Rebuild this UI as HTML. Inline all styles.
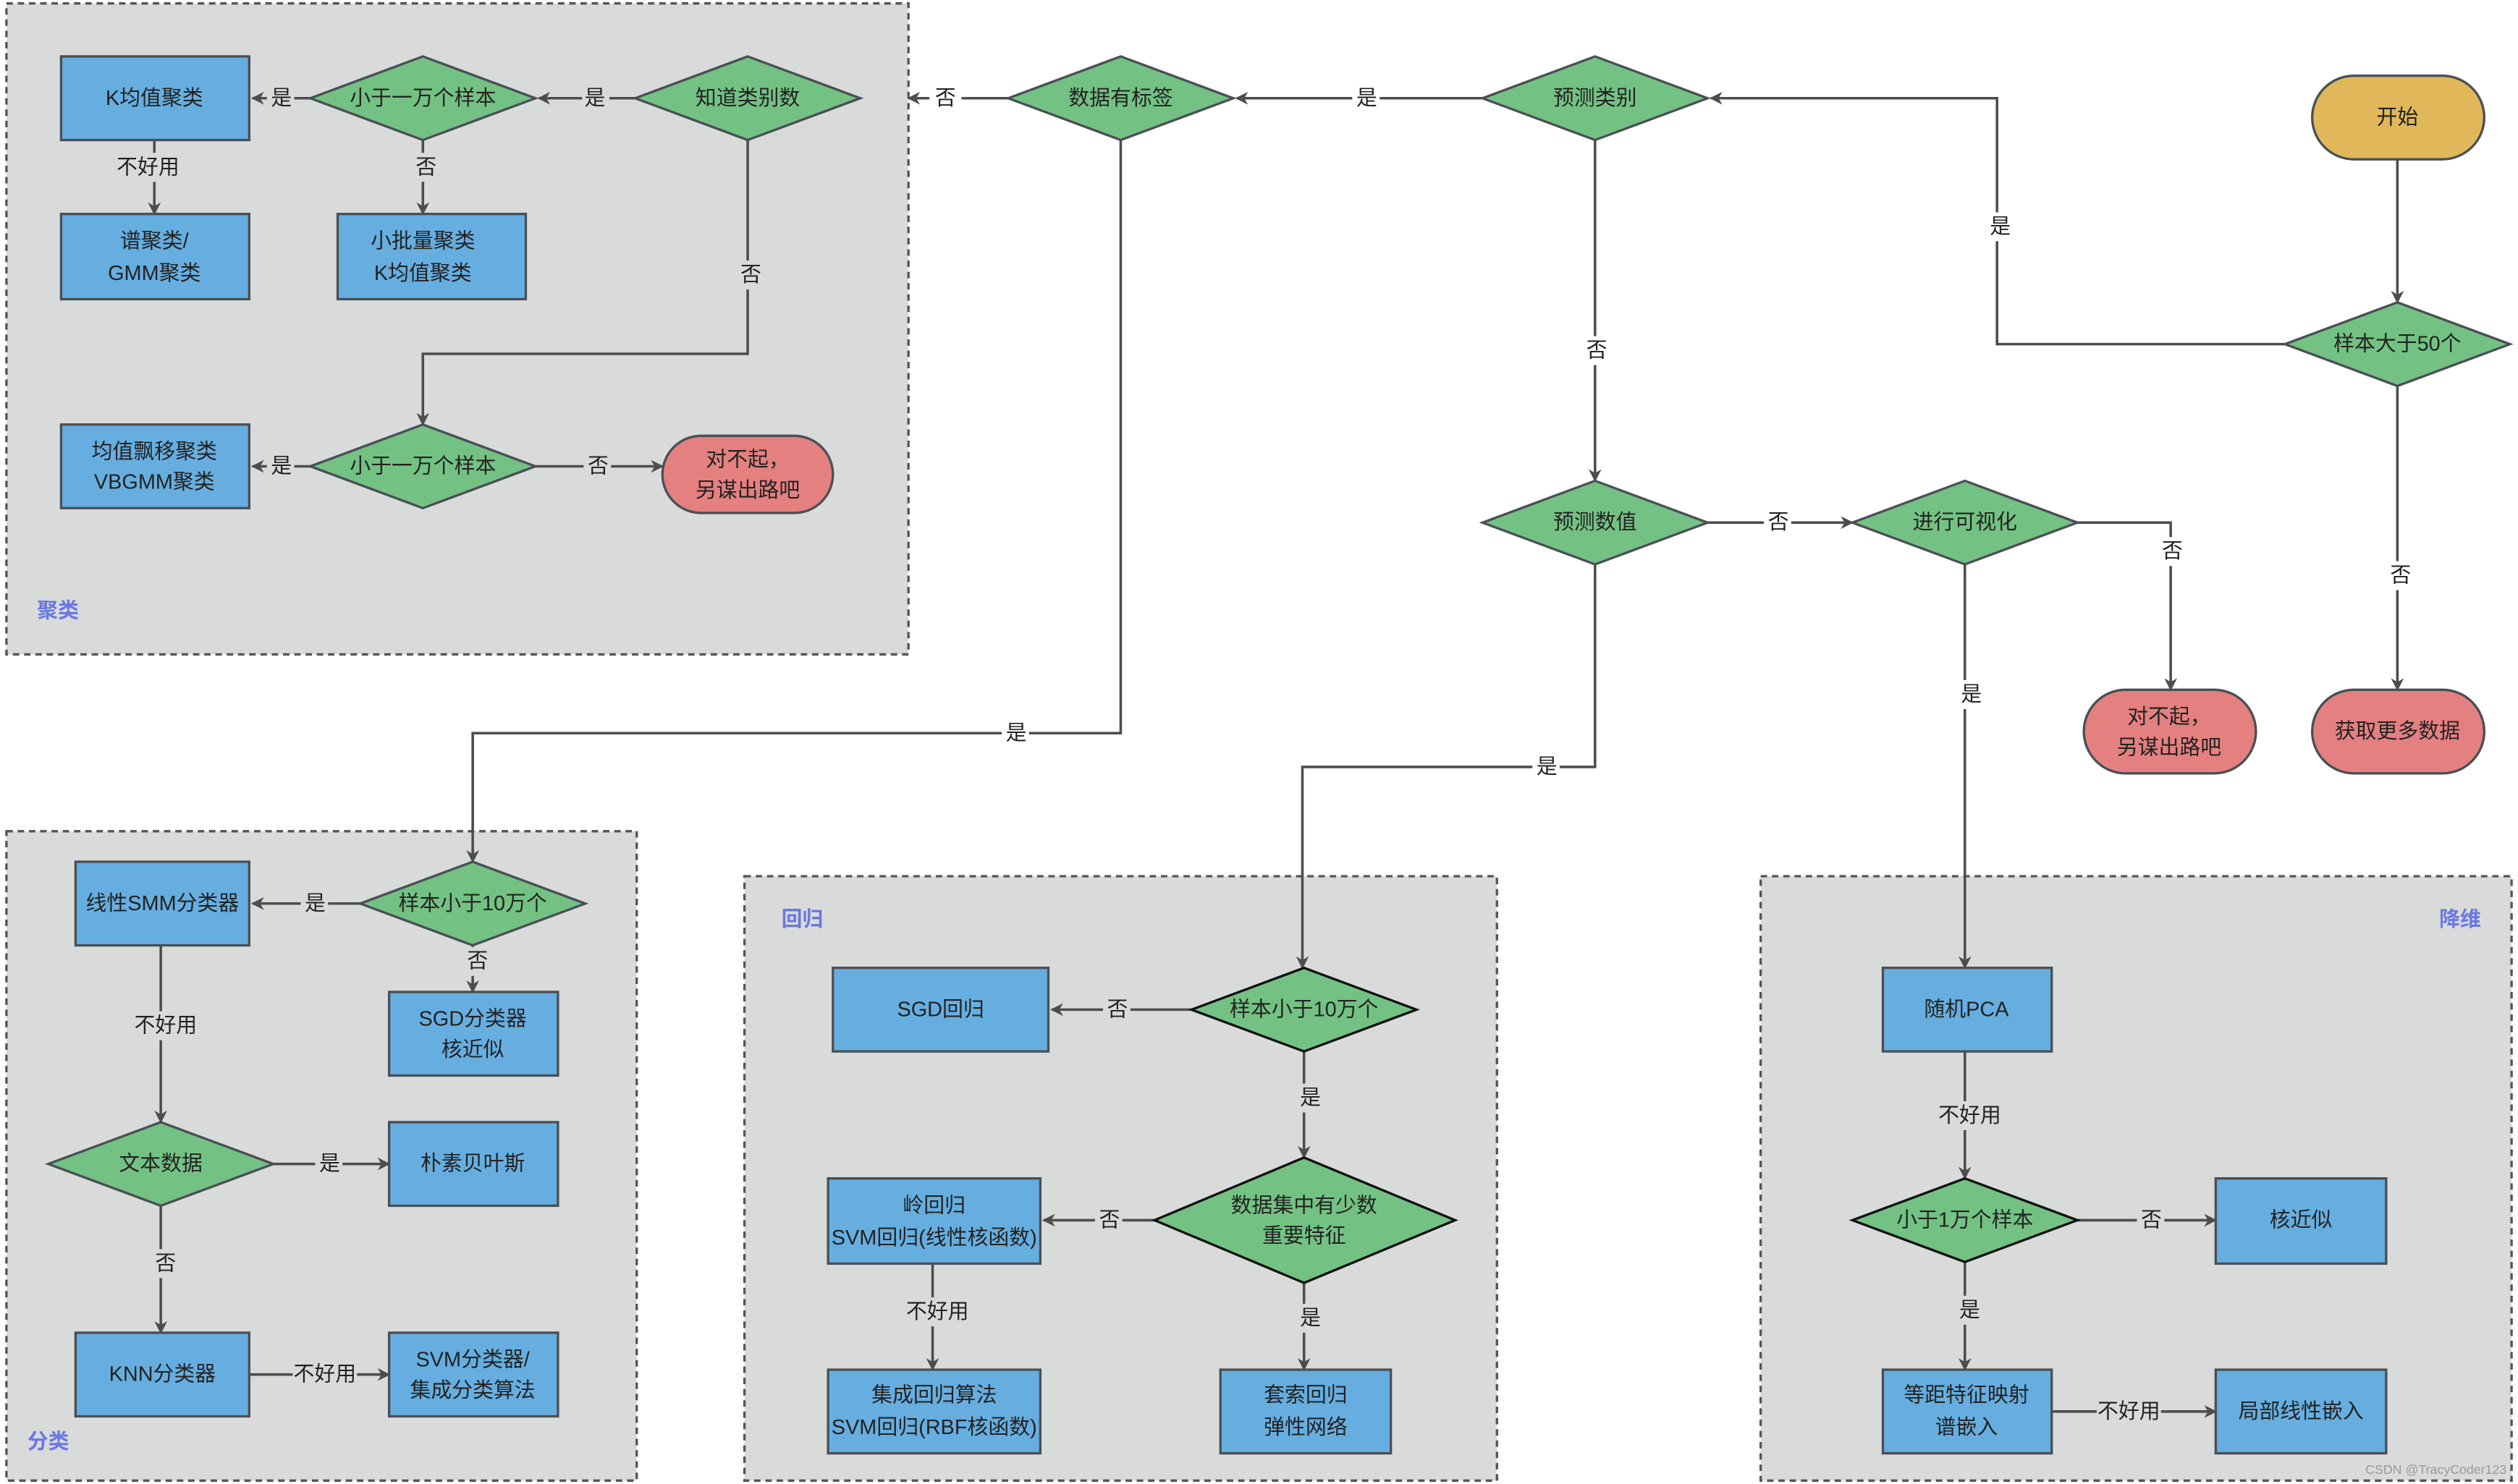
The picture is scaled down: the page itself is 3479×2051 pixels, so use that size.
<!DOCTYPE html>
<html><head><meta charset="utf-8"><style>html,body{margin:0;padding:0;background:#fff}svg{display:block}text{font-family:"Liberation Sans","Noto Sans CJK SC",sans-serif;font-size:13px;fill:#222;text-anchor:middle;dominant-baseline:central}</style></head>
<body>
<svg width="3479" height="2051" viewBox="0 0 1566 923" xmlns="http://www.w3.org/2000/svg">
<defs><marker id="a" viewBox="0 0 10 10" refX="9" refY="5" markerWidth="5" markerHeight="5" orient="auto"><path d="M0,0L10,5L0,10L3,5z" fill="#4d4d4d"/></marker></defs>
<g stroke="#555" stroke-width="1.5" stroke-dasharray="4,3" fill="#d9dbdb">
<rect x="4" y="2" width="561" height="405"/>
<rect x="4" y="517" width="392" height="404"/>
<rect x="463" y="545" width="468" height="376"/>
<rect x="1095" y="545" width="467" height="376"/>
</g>
<g font-weight="bold"><text x="36" y="380" style="fill:#6b79e0;font-weight:bold">聚类</text><text x="30" y="897" style="fill:#6b79e0;font-weight:bold">分类</text><text x="499" y="572" style="fill:#6b79e0;font-weight:bold">回归</text><text x="1530" y="572" style="fill:#6b79e0;font-weight:bold">降维</text></g>
<g stroke="#4d4d4d" stroke-width="1.6" fill="none" marker-end="url(#a)">
<path d="M1491,99V188"/>
<path d="M1421,214H1242V61H1064"/>
<path d="M1491,240V429"/>
<path d="M922,61H769"/>
<path d="M992,87V299"/>
<path d="M627,61H565"/>
<path d="M395,61H335"/>
<path d="M193,61H157"/>
<path d="M96,87V133"/>
<path d="M263,87V133"/>
<path d="M465,87V220H263V264"/>
<path d="M193,290H157"/>
<path d="M333,290H412"/>
<path d="M697,87V456H294V536"/>
<path d="M224,562H157"/>
<path d="M294,588V617"/>
<path d="M100,588V698"/>
<path d="M170,724H242"/>
<path d="M100,750V829"/>
<path d="M155,855H242"/>
<path d="M992,351V477H810V602"/>
<path d="M741,628H654"/>
<path d="M811,654V720"/>
<path d="M718,759H649"/>
<path d="M580,786V852"/>
<path d="M811,798V852"/>
<path d="M1062,325H1152"/>
<path d="M1292,325H1350V429"/>
<path d="M1222,351V602"/>
<path d="M1222,654V733"/>
<path d="M1292,759H1378"/>
<path d="M1222,785V852"/>
<path d="M1276,878H1378"/>
</g>
<g stroke="#4a4f55" stroke-width="1.5">
<g fill="#66aee0">
<rect x="38" y="35" width="117" height="52"/><rect x="38" y="133" width="117" height="53"/><rect x="210" y="133" width="117" height="53"/><rect x="38" y="264" width="117" height="52"/>
<rect x="47" y="536" width="108" height="52"/><rect x="242" y="617" width="105" height="52"/><rect x="242" y="698" width="105" height="52"/><rect x="47" y="829" width="108" height="52"/><rect x="242" y="829" width="105" height="52"/>
<rect x="518" y="602" width="134" height="52"/><rect x="515" y="733" width="132" height="53"/><rect x="515" y="852" width="132" height="52"/><rect x="759" y="852" width="106" height="52"/>
<rect x="1171" y="602" width="105" height="52"/><rect x="1378" y="733" width="106" height="53"/><rect x="1171" y="852" width="105" height="52"/><rect x="1378" y="852" width="106" height="52"/>
</g>
<g fill="#73c283">
<path d="M193,61L263,35L333,61L263,87z"/><path d="M395,61L465,35L535,61L465,87z"/><path d="M193,290L263,264L333,290L263,316z"/>
<path d="M627,61L697,35L767,61L697,87z"/><path d="M922,61L992,35L1062,61L992,87z"/><path d="M1421,214L1491,188L1561,214L1491,240z"/>
<path d="M922,325L992,299L1062,325L992,351z"/><path d="M1152,325L1222,299L1292,325L1222,351z"/>
<path d="M224,562L294,536L364,562L294,588z"/><path d="M30,724L100,698L170,724L100,750z"/>
<path d="M741,628L811,602L881,628L811,654z" stroke="#111"/><path d="M718,759L811,720L905,759L811,798z" stroke="#111"/>
<path d="M1152,759L1222,733L1292,759L1222,785z" stroke="#111"/>
</g>
<rect x="412" y="271" width="106" height="48" rx="24" fill="#e58080"/>
<rect x="1296" y="429" width="107" height="52" rx="26" fill="#e58080"/>
<rect x="1438" y="429" width="107" height="52" rx="26" fill="#e58080"/>
<rect x="1438" y="47" width="107" height="52" rx="26" fill="#e0b85a"/>
</g>
<g>
<text x="96" y="61">K均值聚类</text><text x="96" y="150">谱聚类/</text><text x="96" y="170">GMM聚类</text>
<text x="263" y="150">小批量聚类</text><text x="263" y="170">K均值聚类</text>
<text x="96" y="281">均值飘移聚类</text><text x="96" y="300">VBGMM聚类</text>
<text x="263" y="61">小于一万个样本</text><text x="465" y="61">知道类别数</text><text x="263" y="290">小于一万个样本</text>
<text x="465" y="286">对不起，</text><text x="465" y="305">另谋出路吧</text>
<text x="697" y="61">数据有标签</text><text x="992" y="61">预测类别</text><text x="1491" y="73">开始</text><text x="1491" y="214">样本大于50个</text>
<text x="1491" y="455">获取更多数据</text><text x="1349" y="446">对不起，</text><text x="1349" y="465">另谋出路吧</text>
<text x="992" y="325">预测数值</text><text x="1222" y="325">进行可视化</text>
<text x="101" y="562">线性SMM分类器</text><text x="294" y="562">样本小于10万个</text><text x="294" y="634">SGD分类器</text><text x="294" y="653">核近似</text>
<text x="100" y="724">文本数据</text><text x="294" y="724">朴素贝叶斯</text><text x="101" y="855">KNN分类器</text><text x="294" y="846">SVM分类器/</text><text x="294" y="865">集成分类算法</text>
<text x="585" y="628">SGD回归</text><text x="811" y="628">样本小于10万个</text><text x="811" y="750">数据集中有少数</text><text x="811" y="769">重要特征</text>
<text x="581" y="750">岭回归</text><text x="581" y="770">SVM回归(线性核函数)</text><text x="581" y="868">集成回归算法</text><text x="581" y="888">SVM回归(RBF核函数)</text>
<text x="812" y="868">套索回归</text><text x="812" y="888">弹性网络</text>
<text x="1223" y="628">随机PCA</text><text x="1222" y="759">小于1万个样本</text><text x="1431" y="759">核近似</text><text x="1223" y="868">等距特征映射</text><text x="1223" y="888">谱嵌入</text><text x="1431" y="878">局部线性嵌入</text>
</g>
<g>
<rect x="1236" y="132" width="17" height="18" fill="#fff"/><text x="1244" y="141">是</text>
<rect x="1485" y="349" width="17" height="18" fill="#fff"/><text x="1493" y="358">否</text>
<rect x="841" y="52" width="17" height="18" fill="#fff"/><text x="850" y="61">是</text>
<rect x="985" y="209" width="17" height="18" fill="#fff"/><text x="993" y="218">否</text>
<rect x="578" y="52" width="20" height="18" fill="#fff"/><text x="588" y="61">否</text>
<rect x="362" y="52" width="17" height="18" fill="#d9dbdb"/><text x="370" y="61">是</text>
<rect x="166" y="52" width="17" height="18" fill="#d9dbdb"/><text x="175" y="61">是</text>
<rect x="72" y="95" width="40" height="18" fill="#d9dbdb"/><text x="92" y="104">不好用</text>
<rect x="257" y="95" width="17" height="18" fill="#d9dbdb"/><text x="265" y="104">否</text>
<rect x="459" y="162" width="17" height="18" fill="#d9dbdb"/><text x="467" y="171">否</text>
<rect x="166" y="281" width="17" height="18" fill="#d9dbdb"/><text x="175" y="290">是</text>
<rect x="363" y="281" width="17" height="18" fill="#d9dbdb"/><text x="372" y="290">否</text>
<rect x="623" y="447" width="17" height="18" fill="#fff"/><text x="632" y="456">是</text>
<rect x="187" y="553" width="17" height="18" fill="#d9dbdb"/><text x="196" y="562">是</text>
<rect x="289" y="589" width="17" height="18" fill="#d9dbdb"/><text x="297" y="598">否</text>
<rect x="83" y="629" width="40" height="18" fill="#d9dbdb"/><text x="103" y="638">不好用</text>
<rect x="196" y="715" width="17" height="18" fill="#d9dbdb"/><text x="205" y="724">是</text>
<rect x="95" y="777" width="17" height="18" fill="#d9dbdb"/><text x="103" y="786">否</text>
<rect x="182" y="846" width="40" height="18" fill="#d9dbdb"/><text x="202" y="855">不好用</text>
<rect x="953" y="468" width="17" height="18" fill="#fff"/><text x="962" y="477">是</text>
<rect x="686" y="619" width="17" height="18" fill="#d9dbdb"/><text x="695" y="628">否</text>
<rect x="806" y="674" width="17" height="18" fill="#d9dbdb"/><text x="815" y="683">是</text>
<rect x="681" y="750" width="17" height="18" fill="#d9dbdb"/><text x="690" y="759">否</text>
<rect x="563" y="807" width="40" height="18" fill="#d9dbdb"/><text x="583" y="816">不好用</text>
<rect x="806" y="811" width="17" height="18" fill="#d9dbdb"/><text x="815" y="820">是</text>
<rect x="1097" y="316" width="17" height="18" fill="#fff"/><text x="1106" y="325">否</text>
<rect x="1342" y="334" width="17" height="18" fill="#fff"/><text x="1351" y="343">否</text>
<rect x="1217" y="423" width="17" height="18" fill="#fff"/><text x="1226" y="432">是</text>
<rect x="1205" y="685" width="40" height="18" fill="#d9dbdb"/><text x="1225" y="694">不好用</text>
<rect x="1329" y="750" width="17" height="18" fill="#d9dbdb"/><text x="1338" y="759">否</text>
<rect x="1217" y="806" width="17" height="18" fill="#d9dbdb"/><text x="1225" y="815">是</text>
<rect x="1304" y="869" width="40" height="18" fill="#d9dbdb"/><text x="1324" y="878">不好用</text>
</g>
<text x="1515" y="914" style="font-size:8px;fill:#999">CSDN @TracyCoder123</text>
</svg>
</body></html>
